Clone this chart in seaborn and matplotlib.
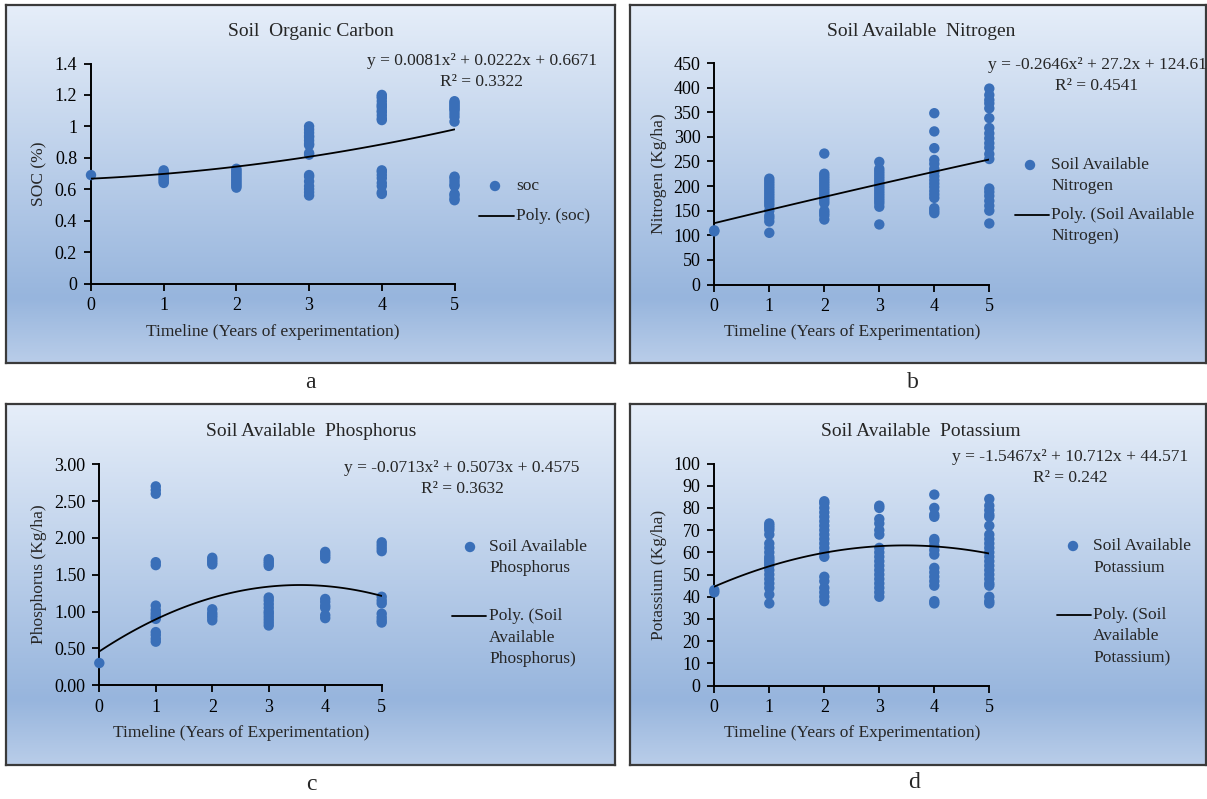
import numpy as np
import pandas as pd
import matplotlib
matplotlib.use('Agg')
import matplotlib.pyplot as plt
from matplotlib.colors import LinearSegmentedColormap
import seaborn as sns

# 1. DATA
years = [0, 1, 2, 3, 4, 5]

soc_by_year = [
    [0.69],
    [0.64, 0.65, 0.66, 0.67, 0.68, 0.69, 0.70, 0.71, 0.72],
    [0.61, 0.62, 0.63, 0.64, 0.65, 0.66, 0.67, 0.68, 0.69, 0.70, 0.71, 0.72, 0.73],
    [1.00, 0.98, 0.96, 0.94, 0.93, 0.91, 0.89, 0.88, 0.83, 0.82,
     0.69, 0.68, 0.65, 0.62, 0.60, 0.58, 0.56],
    [1.20, 1.19, 1.18, 1.16, 1.14, 1.13, 1.12, 1.10, 1.09, 1.07, 1.05, 1.04,
     0.72, 0.71, 0.69, 0.67, 0.64, 0.62, 0.58, 0.57],
    [1.16, 1.15, 1.14, 1.13, 1.12, 1.11, 1.10, 1.08, 1.06, 1.03,
     0.68, 0.67, 0.65, 0.63, 0.62, 0.57, 0.56, 0.54, 0.53],
]
nitrogen_by_year = [
    [110, 108],
    [215, 210, 205, 200, 195, 190, 185, 180, 175, 170, 165, 160, 150, 140, 135, 128, 105],
    [266, 225, 220, 215, 210, 205, 200, 195, 190, 185, 180, 175, 170, 165, 150, 145, 140, 132],
    [249, 235, 230, 225, 220, 215, 210, 205, 200, 195, 190, 185, 180, 175, 170, 165, 158, 122],
    [348, 311, 277, 253, 245, 235, 228, 220, 212, 205, 198, 190, 183, 176, 155, 150, 145],
    [398, 385, 375, 368, 358, 338, 318, 307, 297, 287, 278, 265, 255,
     195, 188, 180, 170, 160, 150, 124],
]
phosphorus_by_year = [
    [0.30],
    [2.70, 2.65, 2.60, 1.67, 1.63, 1.08, 1.02, 0.98, 0.95, 0.92, 0.90, 0.72, 0.68, 0.63, 0.59],
    [1.73, 1.70, 1.67, 1.64, 1.03, 0.98, 0.95, 0.92, 0.88],
    [1.71, 1.68, 1.65, 1.62, 1.19, 1.15, 1.10, 1.05, 1.00, 0.97, 0.93, 0.89, 0.85, 0.81],
    [1.81, 1.78, 1.75, 1.72, 1.17, 1.13, 1.08, 1.05, 0.95, 0.91],
    [1.94, 1.90, 1.86, 1.82, 1.20, 1.15, 1.11, 0.97, 0.92, 0.88, 0.85],
]
potassium_by_year = [
    [42, 43],
    [73, 72, 71, 70, 68, 64, 62, 60, 58, 57, 56, 55, 54, 52, 50, 48, 46, 44, 41, 37],
    [83, 82, 80, 78, 76, 74, 72, 70, 68, 66, 64, 62, 60, 58, 49, 47, 44, 42, 40, 38],
    [81, 80, 75, 73, 70, 68, 62, 60, 58, 56, 54, 52, 50, 48, 46, 44, 42, 40],
    [86, 80, 77, 76, 66, 65, 63, 61, 59, 53, 51, 49, 47, 45, 38, 37],
    [84, 81, 79, 77, 76, 72, 68, 66, 64, 62, 60, 58, 56, 54, 52, 50, 48, 46, 45, 40, 38, 37],
]

# polynomial trendline coefficients printed on the chart (a, b, c)
soc_fit = (0.0081, 0.0222, 0.6671)
nitrogen_fit = (-0.2646, 27.2, 124.61)
phosphorus_fit = (-0.0713, 0.5073, 0.4575)
potassium_fit = (-1.5467, 10.712, 44.571)

soc_eq = ['y = 0.0081x² + 0.0222x + 0.6671', 'R² = 0.3322']
nitrogen_eq = ['y = -0.2646x² + 27.2x + 124.61', 'R² = 0.4541']
phosphorus_eq = ['y = -0.0713x² + 0.5073x + 0.4575', 'R² = 0.3632']
potassium_eq = ['y = -1.5467x² + 10.712x + 44.571', 'R² = 0.242']


def to_frame(by_year):
    rows = [(yr, v) for yr, vals in zip(years, by_year) for v in vals]
    return pd.DataFrame(rows, columns=['year', 'value'])


# 2. STYLE
sns.set_style('ticks')
plt.rcParams['font.family'] = ['Liberation Serif', 'DejaVu Serif']
plt.rcParams['axes.edgecolor'] = 'black'
plt.rcParams['xtick.color'] = 'black'
plt.rcParams['ytick.color'] = 'black'

W, H = 1207, 799
DOT = '#3a6fb8'
DOT_S = 56
bg_cmap = LinearSegmentedColormap.from_list(
    'excel_bg', [(0.0, '#e6eef9'), (0.82, '#97b5dd'), (1.0, '#b9cde9')])

panels = [
    dict(df=to_frame(soc_by_year), fit=soc_fit, eq=soc_eq, title='Soil  Organic Carbon',
         box=(6, 5, 615, 363), ax=(91, 63.5, 454.5, 283.5), ylim=(0, 1.4), step=0.2, fmt='{:g}',
         ylabel='SOC (%)', xlabel='Timeline (Years of experimentation)',
         title_xy=(311, 31), eq_xy=(482, 61), ylab_xy=(39, 174), xlab_xy=(273, 332),
         leg_dot=(495, 186), leg_line=(479, 514, 216), leg_tx=516,
         dot_label=['soc'], line_label=['Poly. (soc)'], letter=('a', 310, 382)),
    dict(df=to_frame(nitrogen_by_year), fit=nitrogen_fit, eq=nitrogen_eq, title='Soil Available  Nitrogen',
         box=(630, 5, 1206, 363), ax=(714.3, 63, 989.3, 284.5), ylim=(0, 450), step=50, fmt='{:g}',
         ylabel='Nitrogen (Kg/ha)', xlabel='Timeline (Years of Experimentation)',
         title_xy=(921, 31), eq_xy=(1097, 65), ylab_xy=(659, 174), xlab_xy=(852, 332),
         leg_dot=(1030, 165), leg_line=(1015, 1049, 215), leg_tx=1051,
         dot_label=['Soil Available', 'Nitrogen'], line_label=['Poly. (Soil Available', 'Nitrogen)'],
         letter=('b', 913, 382)),
    dict(df=to_frame(phosphorus_by_year), fit=phosphorus_fit, eq=phosphorus_eq, title='Soil Available  Phosphorus',
         box=(6, 404, 615, 765), ax=(99.3, 464.3, 381.7, 685.1), ylim=(0, 3.0), step=0.5, fmt='{:.2f}',
         ylabel='Phosphorus (Kg/ha)', xlabel='Timeline (Years of Experimentation)',
         title_xy=(311, 432), eq_xy=(462, 468), ylab_xy=(39, 574), xlab_xy=(241, 733),
         leg_dot=(470, 547), leg_line=(452, 486, 616), leg_tx=489,
         dot_label=['Soil Available', 'Phosphorus'], line_label=['Poly. (Soil', 'Available', 'Phosphorus)'],
         letter=('c', 311, 785)),
    dict(df=to_frame(potassium_by_year), fit=potassium_fit, eq=potassium_eq, title='Soil Available  Potassium',
         box=(630, 404, 1206, 765), ax=(714.3, 463.5, 989.3, 685.6), ylim=(0, 100), step=10, fmt='{:g}',
         ylabel='Potassium (Kg/ha)', xlabel='Timeline (Years of Experimentation)',
         title_xy=(921, 431), eq_xy=(1070, 457), ylab_xy=(659, 575), xlab_xy=(852, 733),
         leg_dot=(1073, 546), leg_line=(1057, 1091, 615), leg_tx=1093,
         dot_label=['Soil Available', 'Potassium'], line_label=['Poly. (Soil', 'Available', 'Potassium)'],
         letter=('d', 914, 783)),
]


def rect(x0, y0, x1, y1):
    return [x0 / W, 1 - y1 / H, (x1 - x0) / W, (y1 - y0) / H]


# 3. FIGURE
fig = plt.figure(figsize=(W / 100, H / 100), dpi=100)
fig.patch.set_facecolor('white')

ov = fig.add_axes([0, 0, 1, 1], zorder=5)
ov.set_xlim(0, W)
ov.set_ylim(H, 0)
ov.axis('off')

LS = 21.5  # legend line spacing (px)

for p in panels:
    # gradient chart-area background with dark border
    bg = fig.add_axes(rect(*p['box']), zorder=0)
    bg.imshow(np.linspace(0, 1, 256).reshape(-1, 1), aspect='auto', cmap=bg_cmap,
              extent=[0, 1, 0, 1], origin='upper')
    bg.set_xticks([])
    bg.set_yticks([])
    for s in bg.spines.values():
        s.set_color('#3a3a3a')
        s.set_linewidth(1.6)

    ax = fig.add_axes(rect(*p['ax']), zorder=1)
    ax.patch.set_alpha(0)
    df = p['df']
    sns.scatterplot(data=df, x='year', y='value', ax=ax, color=DOT, s=DOT_S,
                    edgecolor='none', clip_on=False, zorder=3, legend=False)
    a, b, c = p['fit']
    xs = np.linspace(0, 5, 101)
    sns.lineplot(x=xs, y=a * xs ** 2 + b * xs + c, ax=ax, color='black',
                 linewidth=1.3, zorder=4)

    lo, hi = p['ylim']
    ax.set_xlim(0, 5)
    ax.set_ylim(lo, hi)
    ticks = np.arange(lo, hi + p['step'] / 2, p['step'])
    ax.set_yticks(ticks)
    ax.set_yticklabels([p['fmt'].format(round(t, 2)) for t in ticks])
    ax.set_xticks(years)
    sns.despine(ax=ax)
    for s in ('left', 'bottom'):
        ax.spines[s].set_linewidth(1.4)
    ax.tick_params(labelsize=13, length=5, width=1.3, pad=5)

    ax.set_xlabel(p['xlabel'], fontsize=12.5, va='center')
    ax.xaxis.set_label_coords(p['xlab_xy'][0] / W, 1 - p['xlab_xy'][1] / H, transform=fig.transFigure)
    ax.set_ylabel(p['ylabel'], fontsize=12.5, va='center', ha='center')
    ax.yaxis.set_label_coords(p['ylab_xy'][0] / W, 1 - p['ylab_xy'][1] / H, transform=fig.transFigure)

    # title, equation, legend, panel letter
    ov.text(*p['title_xy'], p['title'], ha='center', va='center', fontsize=14)
    ex, ey = p['eq_xy']
    ov.text(ex, ey, p['eq'][0], ha='center', va='center', fontsize=12.5)
    ov.text(ex, ey + 21, p['eq'][1], ha='center', va='center', fontsize=12.5)

    dx, dy = p['leg_dot']
    ov.scatter([dx], [dy], s=DOT_S, color=DOT, edgecolor='none')
    for i, t in enumerate(p['dot_label']):
        ov.text(p['leg_tx'], dy + i * LS, t, ha='left', va='center', fontsize=12.5)
    lx0, lx1, ly = p['leg_line']
    ov.plot([lx0, lx1], [ly, ly], color='black', linewidth=1.3)
    for i, t in enumerate(p['line_label']):
        ov.text(p['leg_tx'], ly + i * LS, t, ha='left', va='center', fontsize=12.5)

    ch, cx, cy = p['letter']
    ov.text(cx, cy, ch, ha='center', va='center', fontsize=17)

fig.savefig('out.png', dpi=100)
